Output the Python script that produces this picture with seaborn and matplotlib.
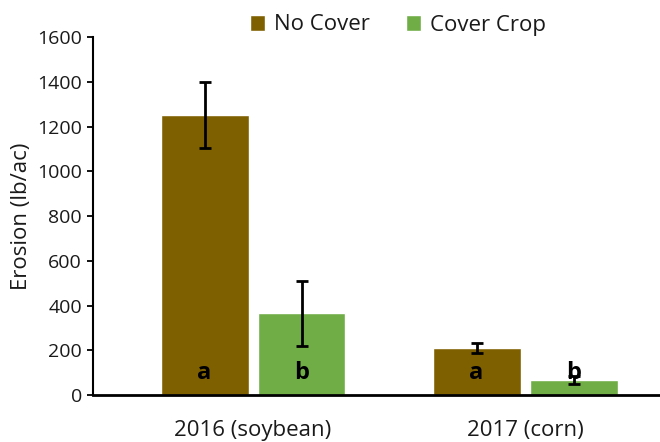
import matplotlib
matplotlib.use("Agg")
import matplotlib.pyplot as plt
import seaborn as sns
import pandas as pd

years = ["2016 (soybean)", "2017 (corn)"]
treatments = ["No Cover", "Cover Crop"]
no_cover = [1250, 210]
cover_crop = [365, 65]
no_cover_err = [148, 24]
cover_crop_err = [145, 18]
letters_no_cover = ["a", "a"]
letters_cover = ["b", "b"]
colors = ["#7F6000", "#70AD47"]

df = pd.DataFrame({
    "Year": years * 2,
    "Treatment": [treatments[0]] * 2 + [treatments[1]] * 2,
    "Erosion": no_cover + cover_crop,
})
errs = no_cover_err + cover_crop_err
lets = letters_no_cover + letters_cover

sns.set_style("white")
plt.rcParams["font.family"] = ["Open Sans", "DejaVu Sans"]

fig = plt.figure(figsize=(6.6, 4.42), dpi=100)
ax = fig.add_axes([0.141, 0.1063, 0.859, 0.81])

sns.barplot(data=df, x="Year", y="Erosion", hue="Treatment", order=years,
            hue_order=treatments, palette=colors, width=0.713, gap=0.093,
            errorbar=None, ax=ax, saturation=1)

bars = [p for p in ax.patches if p.get_height() > 0][:4]
for p, e, l in zip(bars, errs, lets):
    cx = p.get_x() + p.get_width() / 2
    h = p.get_height()
    ax.errorbar(cx, h, yerr=e, fmt="none", ecolor="black", elinewidth=2,
                capsize=4, capthick=2, zorder=5)
    ax.text(cx, 100, l, ha="center", va="center", fontsize=17,
            fontweight="bold", color="black", zorder=6)

ax.set_ylim(0, 1600)
ax.set_yticks(range(0, 1601, 200))
ax.set_xlim(-0.588, 1.496)
ax.set_xlabel("")
ax.set_ylabel("Erosion (lb/ac)", fontsize=16, color="#1a1a1a", labelpad=4)
ax.tick_params(axis="y", labelsize=14, length=4, width=1.3, direction="out",
               left=True, colors="black", pad=4)
ax.tick_params(axis="x", labelsize=16, length=0, pad=18)
for lab in ax.get_xticklabels() + ax.get_yticklabels():
    lab.set_color("#1a1a1a")

for s in ["top", "right"]:
    ax.spines[s].set_visible(False)
ax.spines["left"].set_color("black")
ax.spines["left"].set_linewidth(1.5)
ax.spines["bottom"].set_color("black")
ax.spines["bottom"].set_linewidth(2)

leg = ax.legend(loc="center", bbox_to_anchor=(398 / 660, 1 - 25 / 442),
                bbox_transform=fig.transFigure, ncol=2, frameon=False,
                fontsize=16, handlelength=0.7, handleheight=0.7,
                columnspacing=1.6, handletextpad=0.4)
for t in leg.get_texts():
    t.set_color("#1a1a1a")

fig.savefig("out.png", dpi=100)
